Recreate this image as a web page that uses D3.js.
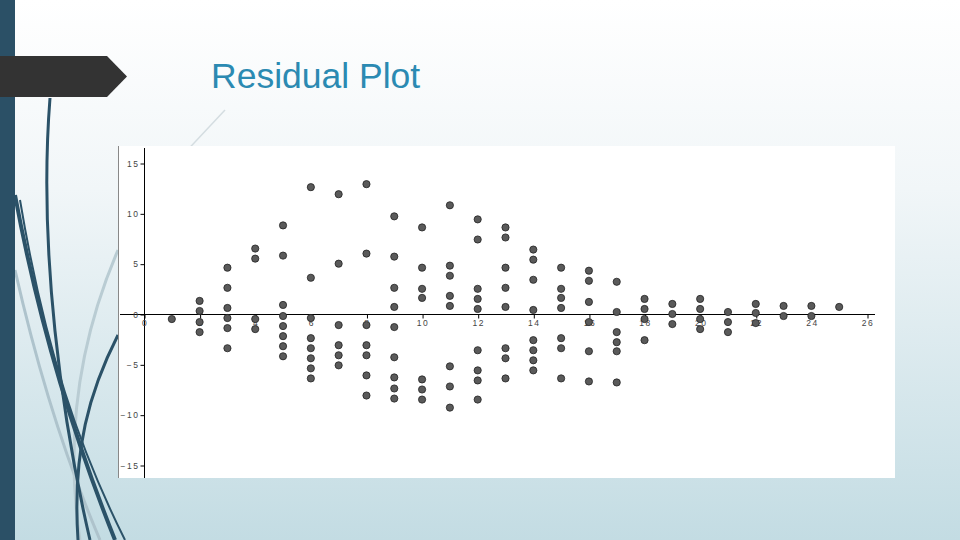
<!DOCTYPE html>
<html>
<head>
<meta charset="utf-8">
<script src="https://cdn.jsdelivr.net/npm/d3@7"></script>
<style>
  body { margin: 0; overflow: hidden; }
  text { font-family: "Liberation Sans", Arial, sans-serif; }
</style>
</head>
<body>
<div id="viz"></div>
<script>
// residuals, one list per x column
var columns = [1, 2, 3, 4, 5, 6, 7, 8, 9, 10, 11, 12, 13, 14, 15, 16, 17, 18, 19, 20, 21, 22, 23, 24, 25];
var residuals = [
  [-0.5],
  [1.3, 0.3, -0.8, -1.8],
  [4.6, 2.6, 0.6, -0.4, -1.4, -3.4],
  [6.5, 5.5, -0.5, -1.5],
  [8.8, 5.8, 0.9, -0.2, -1.2, -2.2, -3.2, -4.2],
  [12.6, 3.6, -0.4, -2.4, -3.4, -4.4, -5.4, -6.4],
  [11.9, 5.0, -1.1, -3.1, -4.1, -5.1],
  [12.9, 6.0, -1.1, -3.1, -4.1, -6.1, -8.1],
  [9.7, 5.7, 2.6, 0.7, -1.3, -4.3, -6.3, -7.4, -8.4],
  [8.6, 4.6, 2.5, 1.6, -6.5, -7.5, -8.5],
  [10.8, 4.8, 3.8, 1.8, 0.8, -5.2, -7.2, -9.3],
  [9.4, 7.4, 2.5, 1.5, 0.5, -3.6, -5.6, -6.6, -8.5],
  [8.6, 7.6, 4.6, 2.6, 0.7, -3.4, -4.4, -6.4],
  [6.4, 5.4, 3.4, 0.4, -2.6, -3.6, -4.6, -5.6],
  [4.6, 2.5, 1.6, 0.6, -2.4, -3.4, -6.4],
  [4.3, 3.3, 1.2, -0.8, -3.7, -6.7],
  [3.2, 0.2, -1.8, -2.8, -3.7, -6.8],
  [1.5, 0.5, -0.5, -2.6],
  [1.0, 0.0, -1.0],
  [1.5, 0.5, -0.5, -1.5],
  [0.2, -0.8, -1.8],
  [1.0, 0.1, -0.9],
  [0.8, -0.2],
  [0.8, -0.2],
  [0.7]
];
var xTicks = [0, 2, 4, 6, 8, 10, 12, 14, 16, 18, 20, 22, 24, 26];
var yTicks = [-15, -10, -5, 0, 5, 10, 15];
var title = "Residual Plot";

var W = 960, H = 540;

var svg = d3.select("#viz")
    .append("svg")
    .attr("width", W)
    .attr("height", H);

// slide background
var defs = svg.append("defs");
var grad = defs.append("linearGradient")
    .attr("id", "bg")
    .attr("x1", 0).attr("y1", 0).attr("x2", 0).attr("y2", 1);
grad.append("stop").attr("offset", "0%").attr("stop-color", "#ffffff");
grad.append("stop").attr("offset", "35%").attr("stop-color", "#f1f6f8");
grad.append("stop").attr("offset", "100%").attr("stop-color", "#c3dce3");

svg.append("rect")
    .attr("width", W)
    .attr("height", H)
    .attr("fill", "url(#bg)");

// decorative swooshes on the left
var swoosh = svg.append("g").attr("fill", "none");
swoosh.append("path")
    .attr("d", "M15,270 C40,380 70,470 100,540")
    .attr("stroke", "#aec3cc").attr("stroke-width", 3);
swoosh.append("path")
    .attr("d", "M118,250 C88,320 62,420 80,540")
    .attr("stroke", "#b9ccd3").attr("stroke-width", 3);
swoosh.append("path")
    .attr("d", "M225,110 L150,190")
    .attr("stroke", "#d4dde1").attr("stroke-width", 1.5);
swoosh.append("path")
    .attr("d", "M50,98 C38,250 62,420 90,540")
    .attr("stroke", "#2b5268").attr("stroke-width", 3);
swoosh.append("path")
    .attr("d", "M15,195 C40,330 75,440 115,540")
    .attr("stroke", "#2b5268").attr("stroke-width", 4);
swoosh.append("path")
    .attr("d", "M118,335 C90,390 72,450 78,540")
    .attr("stroke", "#2b5268").attr("stroke-width", 3);
swoosh.append("path")
    .attr("d", "M20,200 C45,350 80,450 125,540")
    .attr("stroke", "#2b5268").attr("stroke-width", 2);

// left bar
svg.append("rect")
    .attr("width", 15)
    .attr("height", H)
    .attr("fill", "#2b5066");

// dark arrow tag
svg.append("polygon")
    .attr("points", "0,56 107,56 127,76.5 107,97 0,97")
    .attr("fill", "#333333");

svg.append("text")
    .attr("x", 211)
    .attr("y", 88)
    .attr("font-size", 35.5)
    .attr("fill", "#2b8ab2")
    .text(title);

// plot panel
svg.append("rect")
    .attr("x", 118)
    .attr("y", 146)
    .attr("width", 777)
    .attr("height", 332)
    .attr("fill", "#ffffff");
svg.append("line")
    .attr("x1", 118.5).attr("x2", 118.5)
    .attr("y1", 146).attr("y2", 478)
    .attr("stroke", "#888");

var x = d3.scaleLinear().domain([0, 26]).range([144, 867]);
var y = d3.scaleLinear().domain([-15, 15]).range([465, 163]);

// axis lines extend past the tick range
svg.append("line")
    .attr("x1", 144.5).attr("x2", 144.5)
    .attr("y1", 148).attr("y2", 478)
    .attr("stroke", "#000");
svg.append("line")
    .attr("x1", 120).attr("x2", 875)
    .attr("y1", y(0) + 0.5).attr("y2", y(0) + 0.5)
    .attr("stroke", "#000");

var yAxis = svg.append("g")
    .attr("transform", "translate(144.5,0.5)")
    .call(d3.axisLeft(y).tickValues(yTicks).tickSize(4).tickPadding(1));
yAxis.select(".domain").remove();
yAxis.selectAll("text")
    .attr("font-size", 8.5)
    .attr("letter-spacing", 1.5)
    .attr("font-family", "Liberation Sans, Arial, sans-serif")
    .attr("fill", "#444");

var xAxis = svg.append("g")
    .attr("transform", "translate(0.5," + (y(0) + 0.5) + ")")
    .call(d3.axisBottom(x).tickValues(xTicks).tickSize(4).tickPadding(1));
xAxis.select(".domain").remove();
xAxis.selectAll("text")
    .attr("font-size", 8.5)
    .attr("letter-spacing", 1.5)
    .attr("font-family", "Liberation Sans, Arial, sans-serif")
    .attr("fill", "#444");

// points
var pts = [];
columns.forEach(function(c, i) {
    residuals[i].forEach(function(r) { pts.push({ x: c, r: r }); });
});

svg.append("g")
    .selectAll("circle")
    .data(pts)
    .enter()
    .append("circle")
    .attr("cx", function(d) { return x(d.x); })
    .attr("cy", function(d) { return y(d.r); })
    .attr("r", 3.6)
    .attr("fill", "#5a5a5a")
    .attr("stroke", "#222")
    .attr("stroke-width", 0.8);
</script>
</body>
</html>
